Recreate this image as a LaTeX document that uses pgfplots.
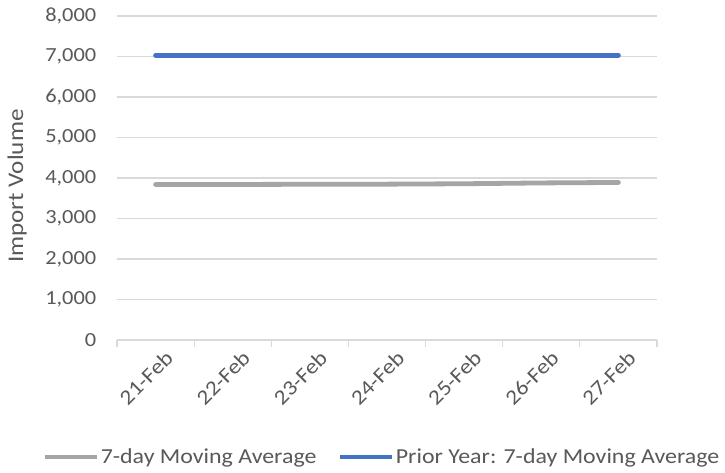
\documentclass[border=0pt]{standalone}
\usepackage{pgfplots}
\pgfplotsset{compat=1.18}
\usepackage{fontspec}
\setmainfont{Carlito}[FakeStretch=1.12]
\definecolor{txt}{HTML}{595959}
\definecolor{gridc}{HTML}{D9D9D9}
\definecolor{cblue}{HTML}{4472C4}
\definecolor{cgray}{HTML}{A5A5A5}
\begin{document}
\begin{tikzpicture}
\begin{axis}[
  name=ax,
  scale only axis,
  width=405pt, height=243pt,
  xmin=0, xmax=7, ymin=0, ymax=8000,
  xtick={0.5,1.5,2.5,3.5,4.5,5.5,6.5},
  xticklabels={21-Feb,22-Feb,23-Feb,24-Feb,25-Feb,26-Feb,27-Feb},
  minor xtick={0,1,2,3,4,5,6,7},
  ytick={0,1000,...,8000},
  scaled y ticks=false,
  /pgf/number format/1000 sep={,},
  /pgf/number format/assume math mode=true,
  ymajorgrids,
  major grid style={draw=gridc, line width=0.9pt},
  axis x line*=bottom,
  axis y line*=left,
  y axis line style={draw=none},
  x axis line style={draw=gridc, line width=0.9pt, -},
  major x tick style={draw=none},
  minor x tick style={draw=gridc, line width=0.9pt},
  minor tick length=5pt,
  xtick align=outside,
  major y tick style={draw=none},
  tick label style={font=\fontsize{15}{17}\selectfont, text=txt},
  x tick label style={font=\fontsize{15.8}{17}\selectfont, rotate=45, anchor=east, xshift=6pt, yshift=-12pt},
  y tick label style={anchor=east, xshift=-12pt},
  ylabel={Import Volume},
  every axis y label/.style={at={(axis description cs:-0.185,0.475)}, rotate=90, anchor=center,
    font=\fontsize{16.8}{18}\selectfont, text=txt},
  legend style={at={(0.49,-0.361)}, anchor=center, draw=none, legend columns=2,
    font=\fontsize{16}{18}\selectfont, text=txt, inner sep=0pt,
    nodes={inner xsep=1pt},
    /tikz/every odd column/.append style={column sep=0pt},
    /tikz/every even column/.append style={column sep=15pt}},
  legend image code/.code={\draw[#1, line cap=butt] (0pt,0pt) -- (39pt,0pt);},
  clip=false,
]
\addplot[cgray, line width=3.6pt, line cap=round] coordinates {
 (0.5,3840) (1.5,3840) (2.5,3845) (3.5,3848) (4.5,3858) (5.5,3878) (6.5,3890)};
\addlegendentry{7-day Moving Average}
\addplot[cblue, line width=3.6pt, line cap=round] coordinates {
 (0.5,7030) (1.5,7030) (2.5,7030) (3.5,7030) (4.5,7030) (5.5,7030) (6.5,7030)};
\addlegendentry{Prior Year: 7-day Moving Average}
\end{axis}
\pgfresetboundingbox
\path ([xshift=-87.75pt,yshift=-99.75pt]ax.south west) rectangle ([xshift=51pt,yshift=12pt]ax.north east);
\end{tikzpicture}
\end{document}
